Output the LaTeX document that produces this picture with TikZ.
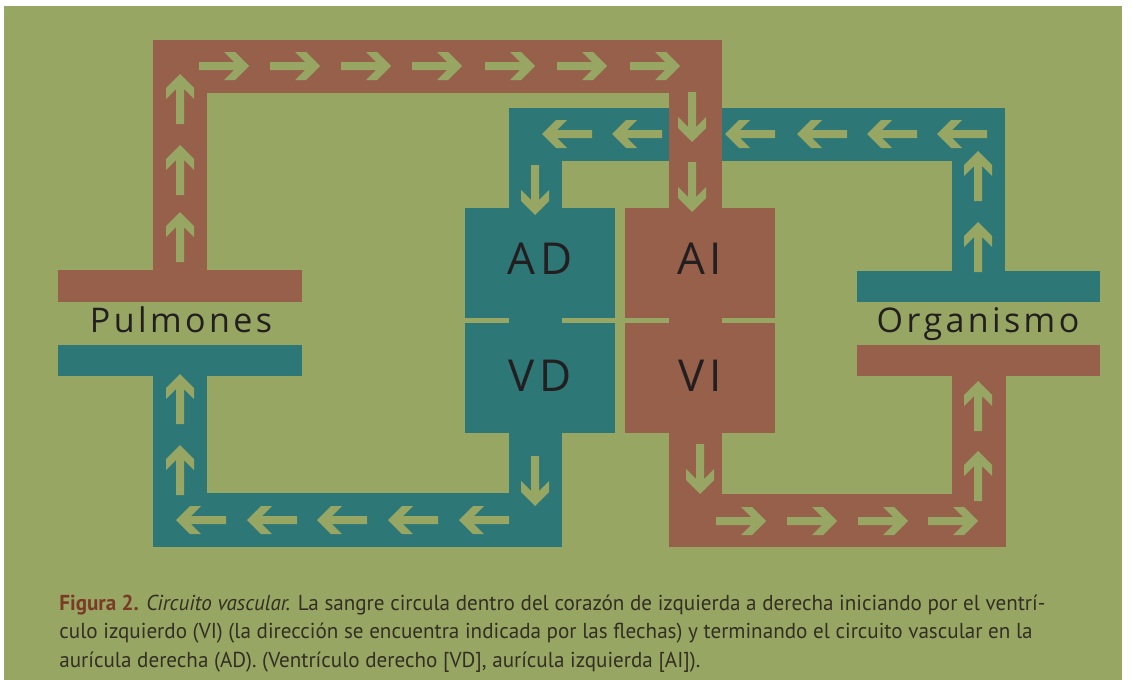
\documentclass[tikz,border=0pt]{standalone}
\usepackage{fontspec}
\usepackage{graphicx}
\newfontfamily\lblfont[LetterSpace=10]{Open Sans}
\newfontfamily\capfont{PT Sans}
\definecolor{bg}{HTML}{97A663}
\definecolor{rd}{HTML}{96604A}
\definecolor{tl}{HTML}{2D7777}
\definecolor{ink}{HTML}{231F20}
\definecolor{capred}{HTML}{7A3B26}
\definecolor{capink}{HTML}{342E24}
\newlength\capw
\newcommand\capone{\textcolor{capred}{\bfseries Figura 2.} \textit{Circuito vascular.} La sangre circula dentro del corazón de izquierda a derecha iniciando por el ventrí-}
\newcommand\captwo{culo izquierdo (VI) (la dirección se encuentra indicada por las flechas) y terminando el circuito vascular en la}
\newcommand\capthree{aurícula derecha (AD). (Ventrículo derecho [VD], aurícula izquierda [AI]).}
\tikzset{
  arr/.pic={\fill[bg] (0,4)--(35,4)--(25,14)--(36,14)--(50,0)--(36,-14)--(25,-14)--(35,-4)--(0,-4)--cycle;},
  box/.style={draw=none,minimum width=75pt,minimum height=55pt,inner sep=0pt},
  big/.style={text=ink,font=\lblfont\fontsize{22}{24}\selectfont},
  organ/.style={text=ink,font=\lblfont\fontsize{17}{20}\selectfont},
  capline/.style={anchor=base west,inner sep=0pt,text=capink,font=\capfont\fontsize{10.8}{12}\selectfont}
}
\begin{document}
\settowidth{\capw}{\capfont\fontsize{10.8}{12}\selectfont\capone}%
\pgfmathsetmacro\capr{493/\capw}%
\begin{tikzpicture}[x=0.5pt,y=-0.5pt]
\useasboundingbox (0,0) rectangle (1132,680);
\fill[white] (0,0) rectangle (1132,680);
\fill[bg] (4,6) rectangle (1122,680);
% ---------- teal circuit ----------
\fill[tl] (58,345) rectangle (302,376);
\fill[tl] (153,376) rectangle (207,547);
\fill[tl] (153,493) rectangle (562,547);
\fill[tl] (509,108) rectangle (562,547);
\fill[tl] (509,108) rectangle (1005,161);
\fill[tl] (952,108) rectangle (1005,271);
\fill[tl] (857,271) rectangle (1100,302);
\node[box,fill=tl,anchor=north west] (AD) at (465,208) {};
\node[box,fill=tl,anchor=north west] (VD) at (465,323) {};
% ---------- red circuit ----------
\fill[rd] (58,270) rectangle (302,302);
\fill[rd] (153,40) rectangle (207,270);
\fill[rd] (153,40) rectangle (722,93);
\fill[rd] (669,40) rectangle (722,547);
\fill[rd] (669,494) rectangle (1006,547);
\fill[rd] (952,376) rectangle (1006,547);
\fill[rd] (857,345) rectangle (1100,376);
\node[box,fill=rd,anchor=north west] (AI) at (625,208) {};
\node[box,fill=rd,anchor=north west] (VI) at (625,323) {};
% ---------- labels ----------
\node[big,anchor=base] at (540,274) {AD};
\node[big,anchor=base] at (700,274) {AI};
\node[big,anchor=base] at (540,391) {VD};
\node[big,anchor=base] at (700,391) {VI};
\node[organ,anchor=base] (pul) at (181,332) {Pulmones};
\node[organ,anchor=base] (org) at (978,332) {Organismo};
% ---------- arrows ----------
% red
\foreach \t in {262,195,124} \pic[rotate=90] at (180,\t) {arr};
\foreach \t in {199,270,341,412,485,557,630} \pic at (\t,66) {arr};
\foreach \t in {92,162} \pic[rotate=-90] at (692,\t) {arr};
\pic[rotate=-90] at (700,444) {arr};
\foreach \t in {716,787,858,928} \pic at (\t,521) {arr};
\foreach \t in {501,431} \pic[rotate=90] at (978,\t) {arr};
% teal
\foreach \t in {987,917,847,775,662,592} \pic[rotate=180] at (\t,134) {arr};
\foreach \t in {272,201} \pic[rotate=90] at (978,\t) {arr};
\pic[rotate=-90] at (535,165) {arr};
\pic[rotate=-90] at (535,456) {arr};
\foreach \t in {509,438,367,297,226} \pic[rotate=180] at (\t,520) {arr};
\foreach \t in {495,424} \pic[rotate=90] at (180,\t) {arr};
% ---------- caption ----------
\node[capline] (c1) at (59,610) {\scalebox{\capr}[1]{\capone}};
\node[capline] (c2) at (59,638) {\scalebox{\capr}[1]{\captwo}};
\node[capline] (c3) at (59,667) {\scalebox{\capr}[1]{\capthree}};
\end{tikzpicture}
\end{document}
